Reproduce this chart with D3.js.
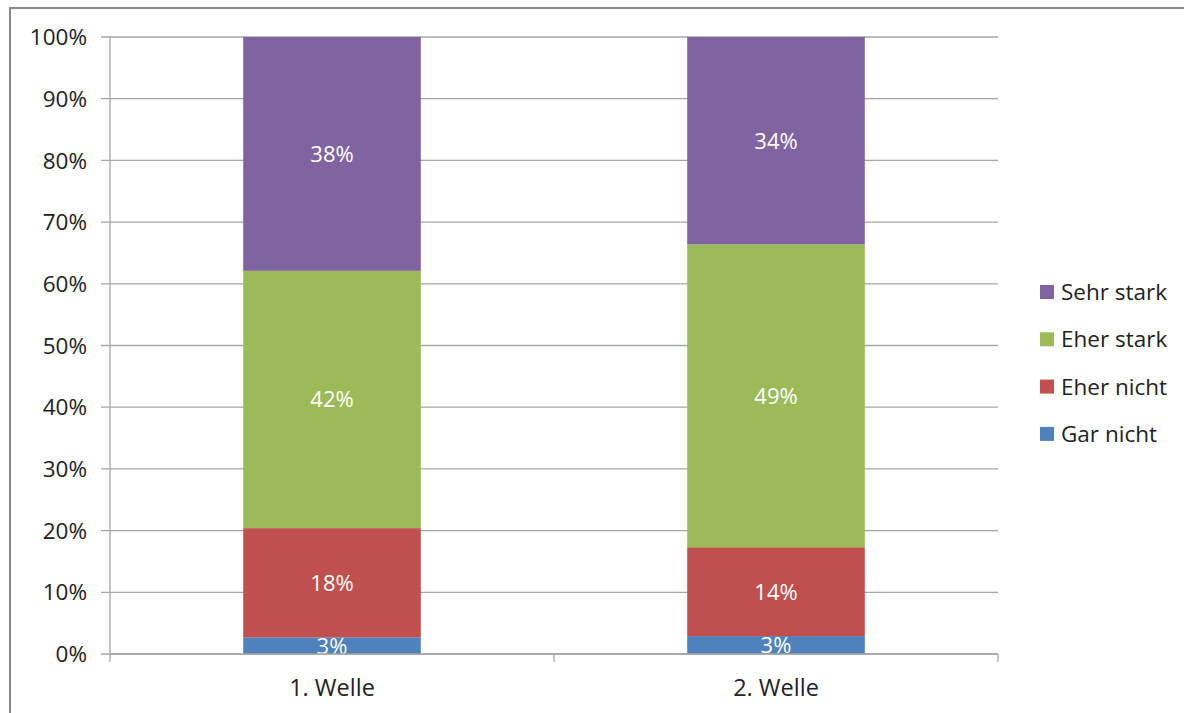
<!DOCTYPE html>
<html>
<head>
<meta charset="utf-8">
<script src="https://cdn.jsdelivr.net/npm/d3@7"></script>
<style>
  body { margin: 0; background: #fff; }
  svg { display: block; font-family: "Open Sans", Lato, sans-serif; }
</style>
</head>
<body>
<div id="viz-container"></div>
<script>
'use strict';

// Data (percent).
const waves = ['1. Welle', '2. Welle'];
const seriesNames = ['Gar nicht', 'Eher nicht', 'Eher stark', 'Sehr stark'];
const garNicht = [2.7, 2.9];
const eherNicht = [17.7, 14.4];
const eherStark = [41.7, 49.1];
const sehrStark = [37.9, 33.6];
const yTicks = [0, 10, 20, 30, 40, 50, 60, 70, 80, 90, 100];
const colors = ['#4F81BD', '#C0504D', '#9BBB59', '#8064A2'];

const W = 1184, H = 713;
const margin = { top: 37, right: 186, bottom: 59, left: 110 };
const width = W - margin.left - margin.right;
const height = H - margin.top - margin.bottom;

const rows = waves.map((w, i) => ({
    wave: w,
    'Gar nicht': garNicht[i],
    'Eher nicht': eherNicht[i],
    'Eher stark': eherStark[i],
    'Sehr stark': sehrStark[i]
}));
const stacked = d3.stack().keys(seriesNames)(rows);

const svg = d3.select('#viz-container')
    .append('svg')
    .attr('width', W)
    .attr('height', H);

// Outer chart border
svg.append('rect')
    .attr('x', 10).attr('y', 8)
    .attr('width', 1180).attr('height', 720)
    .attr('fill', 'none')
    .attr('stroke', '#8a8a8a')
    .attr('stroke-width', 2);

const g = svg.append('g')
    .attr('transform', 'translate(' + margin.left + ',' + margin.top + ')');

const x = d3.scaleBand().domain(waves).range([0, width]).padding(0);
const y = d3.scaleLinear().domain([0, 100]).range([height, 0]);
const barW = x.bandwidth() * 0.4;

// Gridlines
g.append('g')
    .selectAll('line')
    .data(yTicks)
    .enter()
    .append('line')
    .attr('x1', -9)
    .attr('x2', width)
    .attr('y1', d => y(d))
    .attr('y2', d => y(d))
    .attr('stroke', '#a6a6a6')
    .attr('stroke-width', 1.3);

// Y tick labels
g.append('g')
    .selectAll('text')
    .data(yTicks)
    .enter()
    .append('text')
    .attr('x', -23)
    .attr('y', d => y(d))
    .attr('dy', '0.36em')
    .attr('text-anchor', 'end')
    .attr('font-size', 22.5)
    .attr('fill', '#222')
    .text(d => d + '%');

// Bars
const layer = g.selectAll('.layer')
    .data(stacked)
    .enter()
    .append('g')
    .attr('fill', (d, i) => colors[i]);

layer.selectAll('rect')
    .data(d => d)
    .enter()
    .append('rect')
    .attr('x', d => x(d.data.wave) + (x.bandwidth() - barW) / 2)
    .attr('width', barW)
    .attr('y', d => y(d[1]))
    .attr('height', d => y(d[0]) - y(d[1]));

// Value labels
layer.selectAll('text')
    .data(d => d.map(p => ({ p: p, v: p[1] - p[0] })))
    .enter()
    .append('text')
    .attr('x', d => x(d.p.data.wave) + x.bandwidth() / 2)
    .attr('y', d => (y(d.p[0]) + y(d.p[1])) / 2)
    .attr('dy', '0.36em')
    .attr('text-anchor', 'middle')
    .attr('font-size', 22)
    .attr('fill', '#fff')
    .text(d => Math.round(d.v) + '%');

// Axes lines
g.append('line')
    .attr('x1', 0).attr('x2', 0)
    .attr('y1', 0).attr('y2', height)
    .attr('stroke', '#a6a6a6').attr('stroke-width', 1.3);

g.append('line')
    .attr('x1', 0).attr('x2', width)
    .attr('y1', height).attr('y2', height)
    .attr('stroke', '#a6a6a6').attr('stroke-width', 1.3);

// X ticks at band boundaries
g.append('g')
    .selectAll('line')
    .data([0, 1, 2])
    .enter()
    .append('line')
    .attr('x1', d => d * x.step())
    .attr('x2', d => d * x.step())
    .attr('y1', height)
    .attr('y2', height + 8)
    .attr('stroke', '#a6a6a6').attr('stroke-width', 1.3);

// X labels
g.append('g')
    .selectAll('text')
    .data(waves)
    .enter()
    .append('text')
    .attr('x', d => x(d) + x.bandwidth() / 2)
    .attr('y', height + 34)
    .attr('dy', '0.36em')
    .attr('text-anchor', 'middle')
    .attr('font-size', 23.5)
    .attr('fill', '#222')
    .text(d => d);

// Legend (top entry is last series)
const legend = svg.append('g')
    .attr('transform', 'translate(1040,292)');

const legendItems = legend.selectAll('g')
    .data(seriesNames.slice().reverse())
    .enter()
    .append('g')
    .attr('transform', (d, i) => 'translate(0,' + (i * 47.3) + ')');

legendItems.append('rect')
    .attr('x', 0).attr('y', -7)
    .attr('width', 14).attr('height', 14)
    .attr('fill', d => colors[seriesNames.indexOf(d)]);

legendItems.append('text')
    .attr('x', 21)
    .attr('y', 0)
    .attr('dy', '0.36em')
    .attr('font-size', 22.5)
    .attr('fill', '#222')
    .text(d => d);
</script>
</body>
</html>
